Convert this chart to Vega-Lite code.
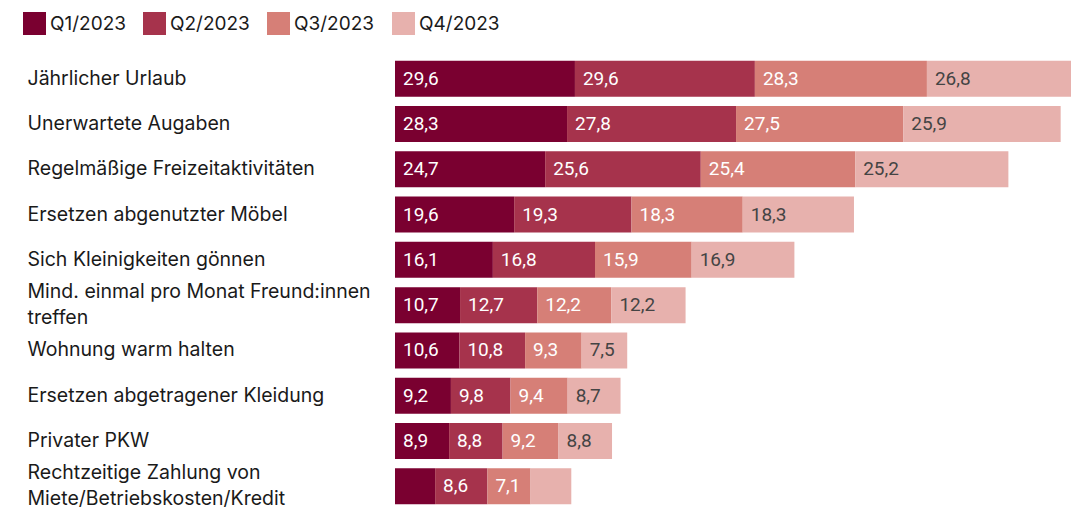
{
  "$schema": "https://vega.github.io/schema/vega-lite/v6.json",
  "autosize": {"type": "none"},
  "width": 676,
  "height": 453,
  "padding": {"left": 395, "top": 56, "right": 0, "bottom": 0},
  "background": "white",
  "config": {
    "view": {"stroke": null},
    "font": "Inter",
    "locale": {"number": {"decimal": ",", "thousands": ".", "grouping": [3], "currency": ["", " €"]}}
  },
  "data": {
    "values": [
      {"cat": "Jährlicher Urlaub", "q": "Q1/2023", "v": 29.6},
      {"cat": "Jährlicher Urlaub", "q": "Q2/2023", "v": 29.6},
      {"cat": "Jährlicher Urlaub", "q": "Q3/2023", "v": 28.3},
      {"cat": "Jährlicher Urlaub", "q": "Q4/2023", "v": 26.8},
      {"cat": "Unerwartete Augaben", "q": "Q1/2023", "v": 28.3},
      {"cat": "Unerwartete Augaben", "q": "Q2/2023", "v": 27.8},
      {"cat": "Unerwartete Augaben", "q": "Q3/2023", "v": 27.5},
      {"cat": "Unerwartete Augaben", "q": "Q4/2023", "v": 25.9},
      {"cat": "Regelmäßige Freizeitaktivitäten", "q": "Q1/2023", "v": 24.7},
      {"cat": "Regelmäßige Freizeitaktivitäten", "q": "Q2/2023", "v": 25.6},
      {"cat": "Regelmäßige Freizeitaktivitäten", "q": "Q3/2023", "v": 25.4},
      {"cat": "Regelmäßige Freizeitaktivitäten", "q": "Q4/2023", "v": 25.2},
      {"cat": "Ersetzen abgenutzter Möbel", "q": "Q1/2023", "v": 19.6},
      {"cat": "Ersetzen abgenutzter Möbel", "q": "Q2/2023", "v": 19.3},
      {"cat": "Ersetzen abgenutzter Möbel", "q": "Q3/2023", "v": 18.3},
      {"cat": "Ersetzen abgenutzter Möbel", "q": "Q4/2023", "v": 18.3},
      {"cat": "Sich Kleinigkeiten gönnen", "q": "Q1/2023", "v": 16.1},
      {"cat": "Sich Kleinigkeiten gönnen", "q": "Q2/2023", "v": 16.8},
      {"cat": "Sich Kleinigkeiten gönnen", "q": "Q3/2023", "v": 15.9},
      {"cat": "Sich Kleinigkeiten gönnen", "q": "Q4/2023", "v": 16.9},
      {"cat": "Mind. einmal pro Monat Freund:innen|treffen", "q": "Q1/2023", "v": 10.7},
      {"cat": "Mind. einmal pro Monat Freund:innen|treffen", "q": "Q2/2023", "v": 12.7},
      {"cat": "Mind. einmal pro Monat Freund:innen|treffen", "q": "Q3/2023", "v": 12.2},
      {"cat": "Mind. einmal pro Monat Freund:innen|treffen", "q": "Q4/2023", "v": 12.2},
      {"cat": "Wohnung warm halten", "q": "Q1/2023", "v": 10.6},
      {"cat": "Wohnung warm halten", "q": "Q2/2023", "v": 10.8},
      {"cat": "Wohnung warm halten", "q": "Q3/2023", "v": 9.3},
      {"cat": "Wohnung warm halten", "q": "Q4/2023", "v": 7.5},
      {"cat": "Ersetzen abgetragener Kleidung", "q": "Q1/2023", "v": 9.2},
      {"cat": "Ersetzen abgetragener Kleidung", "q": "Q2/2023", "v": 9.8},
      {"cat": "Ersetzen abgetragener Kleidung", "q": "Q3/2023", "v": 9.4},
      {"cat": "Ersetzen abgetragener Kleidung", "q": "Q4/2023", "v": 8.7},
      {"cat": "Privater PKW", "q": "Q1/2023", "v": 8.9},
      {"cat": "Privater PKW", "q": "Q2/2023", "v": 8.8},
      {"cat": "Privater PKW", "q": "Q3/2023", "v": 9.2},
      {"cat": "Privater PKW", "q": "Q4/2023", "v": 8.8},
      {"cat": "Rechtzeitige Zahlung von|Miete/Betriebskosten/Kredit", "q": "Q1/2023", "v": 6.6},
      {"cat": "Rechtzeitige Zahlung von|Miete/Betriebskosten/Kredit", "q": "Q2/2023", "v": 8.6},
      {"cat": "Rechtzeitige Zahlung von|Miete/Betriebskosten/Kredit", "q": "Q3/2023", "v": 7.1},
      {"cat": "Rechtzeitige Zahlung von|Miete/Betriebskosten/Kredit", "q": "Q4/2023", "v": 6.7}
    ]
  },
  "transform": [
    {"stack": "v", "groupby": ["cat"], "sort": [{"field": "q", "order": "ascending"}], "as": ["x0", "x1"]}
  ],
  "encoding": {
    "y": {
      "field": "cat",
      "type": "nominal",
      "sort": null,
      "title": null,
      "scale": {"paddingInner": 0.205, "paddingOuter": 0.1025},
      "axis": {
        "domain": false,
        "ticks": false,
        "labelAlign": "left",
        "labelPadding": 368,
        "labelLimit": 400,
        "labelFontSize": 19.5,
        "labelColor": "#1a1a1a",
        "labelFont": "Inter",
        "labelLineHeight": 26,
        "labelOffset": {"condition": {"test": "indexof(datum.value, '|') >= 0", "value": -13}, "value": 0},
        "labelExpr": "split(datum.label, '|')"
      }
    }
  },
  "layer": [
    {
      "mark": {"type": "bar", "clip": true},
      "encoding": {
        "x": {"field": "x0", "type": "quantitative", "scale": {"domain": [0, 111.2], "nice": false, "zero": true}, "axis": null},
        "x2": {"field": "x1"},
        "color": {
          "field": "q",
          "type": "nominal",
          "scale": {"domain": ["Q1/2023", "Q2/2023", "Q3/2023", "Q4/2023"], "range": ["#7a0030", "#a6334c", "#d67f77", "#e7b1ad"]},
          "legend": {
            "title": null,
            "orient": "none",
            "direction": "horizontal",
            "legendX": -372,
            "legendY": -44,
            "symbolType": "square",
            "symbolSize": 529,
            "symbolStrokeWidth": 0,
            "symbolOpacity": 1,
            "labelFontSize": 19,
            "labelFont": "Inter",
            "labelColor": "#1a1a1a",
            "labelOffset": 4,
            "columnPadding": 17
          }
        }
      }
    },
    {
      "transform": [{"filter": "datum.v >= 7"}],
      "mark": {"type": "text", "align": "left", "baseline": "middle", "dx": 8, "fontSize": 19, "font": "Roboto", "clip": true},
      "encoding": {
        "x": {"field": "x0", "type": "quantitative"},
        "text": {"field": "v", "type": "quantitative", "format": ".1f"},
        "color": {"condition": {"test": "datum.q === 'Q4/2023'", "value": "#444444"}, "value": "white"}
      }
    }
  ]
}
